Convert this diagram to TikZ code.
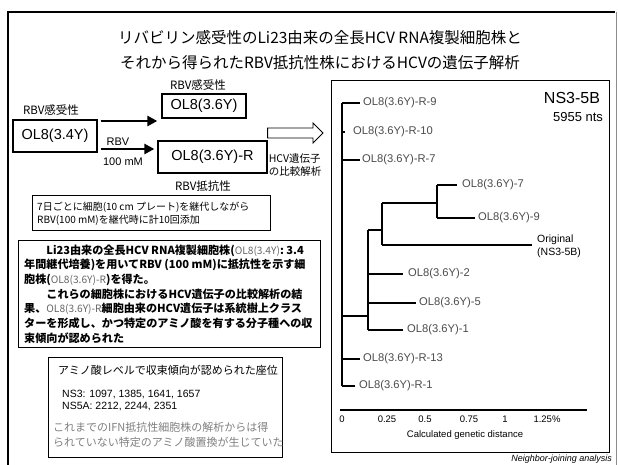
\documentclass[tikz,border=0pt]{standalone}
\usepackage{fontspec}
\setmainfont{Liberation Sans}
\newfontfamily\jp{Noto Sans CJK JP}
\usetikzlibrary{arrows.meta}
\newcommand{\olg}[1]{{\mdseries\color{black!60}\fontsize{10.2}{14.4}\selectfont #1}}
\begin{document}
\begin{tikzpicture}[x=1pt,y=-1pt,
  boxed/.style={draw, line width=1.3pt, inner sep=0pt},
  thinbox/.style={draw, line width=0.9pt, inner sep=0pt},
  bigarrow/.style={line width=2.6pt, -{Triangle[length=10pt,width=10pt]}},
  branch/.style={line width=1.1pt},
  leaf/.style={anchor=west, inner sep=0pt, text=black!70, font=\fontsize{11.2}{12}\selectfont},
  jlbl/.style={inner sep=0pt, font=\jp\fontsize{11.5}{13}\selectfont},
  ticklbl/.style={inner sep=0pt, font=\fontsize{9.5}{11}\selectfont},
]
\useasboundingbox (0,0) rectangle (618,465);
\fill[white] (0,0) rectangle (618,465);
% outer frame
\draw[line width=2.6pt] (8,470) -- (8,12) -- (615,12);
\draw[black!45, line width=0.6pt] (616,12) -- (616,470);

% title
\node[inner sep=0pt, font=\jp\fontsize{15.5}{18}\selectfont] (t1) at (320,38) {リバビリン感受性のLi23由来の全長HCV RNA複製細胞株と};
\node[inner sep=0pt, font=\jp\fontsize{15.5}{18}\selectfont] (t2) at (320,63) {それから得られたRBV抵抗性株におけるHCVの遺伝子解析};

% cell line boxes
\node[boxed, minimum width=84pt, minimum height=32pt, font=\fontsize{14.5}{16}\selectfont] (b34) at (55,136) {OL8(3.4Y)};
\node[boxed, minimum width=84pt, minimum height=24pt, font=\fontsize{14.5}{16}\selectfont] (b36) at (204,106) {OL8(3.6Y)};
\node[boxed, minimum width=109pt, minimum height=32pt, font=\fontsize{14.5}{16}\selectfont] (b36r) at (212.5,157) {OL8(3.6Y)-R};

\node[jlbl] (sA) at (51,110) {RBV感受性};
\node[jlbl] (sB) at (198,85) {RBV感受性};
\node[jlbl] (rC) at (203,186) {RBV抵抗性};

\draw[bigarrow, shorten <=3pt, shorten >=4pt] (b34.east |- 0,121) -- (b36.west |- 0,121);
\draw[bigarrow, shorten <=3pt, shorten >=3pt] (b34.east |- 0,149) -- (b36r.west |- 0,149);
\node[inner sep=0pt, font=\fontsize{11}{13}\selectfont] (rbv) at (118,142) {RBV};
\node[inner sep=0pt, font=\fontsize{11}{13}\selectfont] (mm) at (123,162) {100 mM};

% hollow arrow
\draw[line width=0.9pt, fill=white] (b36r.east |- 0,128) -- (313,128) -- (313,123) -- (323,133) -- (313,143) -- (313,138) -- (b36r.east |- 0,138) -- cycle;
\node[inner sep=0pt, align=left, font=\jp\fontsize{10.5}{13}\selectfont] (hcv) at (295,165.5) {HCV遺伝子\\の比較解析};

% passage box
\node[thinbox, minimum width=238pt, minimum height=35pt, anchor=north west] (stepbx) at (32,195) {};
\node[anchor=west, inner sep=0pt, align=left, font=\jp\fontsize{10}{13}\selectfont] (steptxt) at (37,213.5) {7日ごとに細胞(10 cm プレート)を継代しながら\\RBV(100 mM)を継代時に計10回添加};

% summary paragraph
\node[thinbox, minimum width=302pt, minimum height=107pt, anchor=north west] (parbx) at (18,240) {};
\node[anchor=west, inner sep=0pt, align=left, font=\jp\bfseries\fontsize{11.1}{14.65}\selectfont] (partxt) at (24,294) {%
\hspace*{2em}Li23由来の全長HCV RNA複製細胞株(\olg{OL8(3.4Y)}: 3.4\\
年間継代培養)を用いてRBV (100 mM)に抵抗性を示す細\\
胞株(\olg{OL8(3.6Y)-R})を得た。\\
\hspace*{2em}これらの細胞株におけるHCV遺伝子の比較解析の結\\
果、\olg{OL8(3.6Y)-R}細胞由来のHCV遺伝子は系統樹上クラス\\
ターを形成し、かつ特定のアミノ酸を有する分子種への収\\
束傾向が認められた};

% amino acid box
\node[thinbox, minimum width=234pt, minimum height=100pt, anchor=north west] (aabx) at (48,357) {};
\node[anchor=west, inner sep=0pt, font=\jp\fontsize{11}{13}\selectfont] (aahead) at (58,370) {アミノ酸レベルで収束傾向が認められた座位};
\node[anchor=west, inner sep=0pt, align=left, font=\fontsize{10.5}{12}\selectfont] (aans) at (62,401) {NS3: 1097, 1385, 1641, 1657\\NS5A: 2212, 2244, 2351};
\node[anchor=west, inner sep=0pt, align=left, text=black!50, font=\jp\fontsize{11}{15}\selectfont] (aanote) at (53,434.5) {これまでのIFN抵抗性細胞株の解析からは得\\られていない特定のアミノ酸置換が生じていた};

% tree panel
\node[draw, line width=0.9pt, minimum width=278pt, minimum height=372pt, anchor=north west, inner sep=0pt] (tree) at (331,80) {};
\node[inner sep=0pt, font=\fontsize{16}{18}\selectfont] (ns) at (572,98) {NS3-5B};
\node[inner sep=0pt, font=\fontsize{13}{15}\selectfont] (nts) at (578,117) {5955 nts};

\coordinate (rt) at (342,103);
\coordinate (r10j) at (342,132);
\coordinate (r7j) at (342,160);
\coordinate (cA) at (342,316);
\coordinate (r13j) at (342,359);
\coordinate (rb) at (342,386);
\coordinate (cAt) at (368,230);
\coordinate (cAb) at (368,330);
\coordinate (cBt) at (382,203);
\coordinate (cBb) at (382,245);
\coordinate (cCt) at (437,185);
\coordinate (cCb) at (437,218);

\draw[branch] (rt) -- (rb);
\draw[line width=2.4pt] (rt) -- (r10j);

\node[leaf] (lr9) at (363,103) {OL8(3.6Y)-R-9};
\node[leaf] (lr10) at (353,132) {OL8(3.6Y)-R-10};
\node[leaf] (lr7) at (362,160) {OL8(3.6Y)-R-7};
\node[leaf] (l7) at (462,185) {OL8(3.6Y)-7};
\node[leaf] (l9) at (478,218) {OL8(3.6Y)-9};
\node[leaf, text=black, align=left, font=\fontsize{10.5}{13}\selectfont] (lorig) at (537,246.5) {Original\\(NS3-5B)};
\node[leaf] (l2) at (408,274) {OL8(3.6Y)-2};
\node[leaf] (l5) at (419,303) {OL8(3.6Y)-5};
\node[leaf] (l1) at (407,330) {OL8(3.6Y)-1};
\node[leaf] (lr13) at (363,359) {OL8(3.6Y)-R-13};
\node[leaf] (lr1) at (359,386) {OL8(3.6Y)-R-1};

\draw[branch, shorten >=3pt] (rt) -- (lr9.west);
\draw[branch, shorten >=8pt] (r10j) -- (lr10.west);
\draw[branch, shorten >=2pt] (r7j) -- (lr7.west);
\draw[branch, shorten >=3pt] (r13j) -- (lr13.west);
\draw[branch, shorten >=4pt] (rb) -- (lr1.west);
\draw[branch] (cA) -- (cA -| cAt);
\draw[branch] (cAt) -- (cAb);
\draw[branch, shorten >=5pt] (cAt |- l2.west) -- (l2.west);
\draw[branch, shorten >=3pt] (cAt |- l5.west) -- (l5.west);
\draw[branch, shorten >=4pt] (cAb) -- (l1.west);
\draw[branch] (cAt) -- (cBt |- cAt);
\draw[branch] (cBt) -- (cBb);
\draw[branch, shorten >=5pt] (cBb) -- (cBb -| lorig.west);
\draw[branch] (cBt) -- (cCt |- cBt);
\draw[branch] (cCt) -- (cCb);
\draw[branch, shorten >=5pt] (cCt) -- (l7.west);
\draw[branch, shorten >=3pt] (cCb) -- (l9.west);

% axis
\coordinate (ax0) at (340,410);
\coordinate (ax1) at (587,410);
\draw[line width=1.1pt] (ax0) -- (ax1);
\node[ticklbl] (tk0) at (342,419) {0};
\node[ticklbl] (tk1) at (387,419) {0.25};
\node[ticklbl] (tk2) at (425,419) {0.5};
\node[ticklbl] (tk3) at (469,419) {0.75};
\node[ticklbl] (tk4) at (505,419) {1};
\node[ticklbl] (tk5) at (547,419) {1.25\%};
\node[inner sep=0pt, font=\fontsize{9.5}{11}\selectfont] (axlbl) at (465,435) {Calculated genetic distance};
\node[anchor=east, inner sep=0pt, font=\itshape\fontsize{9}{11}\selectfont] (nj) at (612,459) {Neighbor-joining analysis};
\end{tikzpicture}
\end{document}
